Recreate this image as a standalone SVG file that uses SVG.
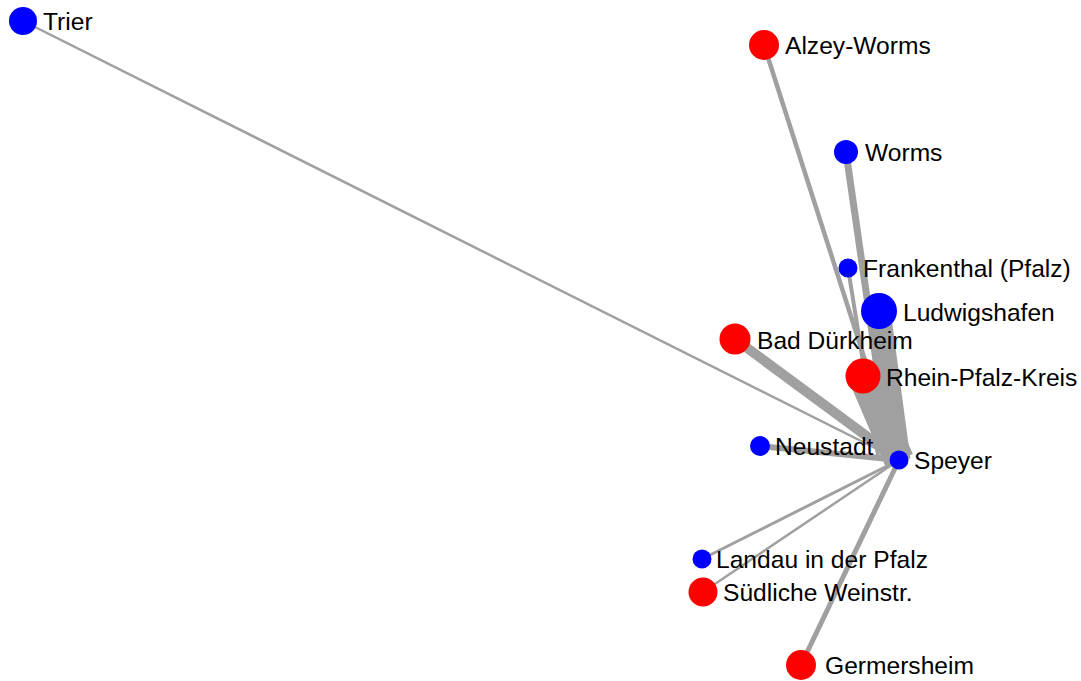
<svg xmlns="http://www.w3.org/2000/svg" width="1081" height="681" viewBox="0 0 1081 681">
  <style>
    .link { stroke: #a0a0a0; stroke-linecap: butt; fill: none; }
    .red { fill: #ff0000; }
    .blue { fill: #0000ff; }
    .label { font-family: "Liberation Sans", Arial, sans-serif; font-size: 24.6px; fill: #000000; }
  </style>
  <rect x="0" y="0" width="1081" height="681" fill="#ffffff"/>

  <!-- connectors: flows into Speyer -->
  <g id="links">
    <line class="link" x1="23" y1="21" x2="899" y2="460" stroke-width="2.5"/>
    <line class="link" x1="764" y1="45" x2="897" y2="460" stroke-width="4.5"/>
    <line class="link" x1="846" y1="152" x2="890" y2="458" stroke-width="7"/>
    <line class="link" x1="848" y1="268" x2="878" y2="455" stroke-width="4"/>
    <line class="link" x1="879" y1="311" x2="899" y2="460" stroke-width="23"/>
    <line class="link" x1="735" y1="339" x2="899" y2="460" stroke-width="10"/>
    <line class="link" x1="863" y1="376" x2="899" y2="460" stroke-width="30"/>
    <line class="link" x1="760" y1="446" x2="899" y2="460" stroke-width="6"/>
    <line class="link" x1="702" y1="559" x2="899" y2="460" stroke-width="3"/>
    <line class="link" x1="703" y1="592" x2="899" y2="460" stroke-width="2.5"/>
    <line class="link" x1="801" y1="665" x2="899" y2="460" stroke-width="5"/>
  </g>

  <g id="node-trier"><circle class="blue" cx="23" cy="21" r="14"/><text class="label" x="43" y="29.5">Trier</text></g>
  <g id="node-alzey-worms"><circle class="red" cx="764" cy="45" r="15"/><text class="label" x="785" y="54">Alzey-Worms</text></g>
  <g id="node-worms"><circle class="blue" cx="846" cy="152" r="12"/><text class="label" x="865" y="161">Worms</text></g>
  <g id="node-frankenthal"><circle class="blue" cx="848" cy="268" r="9.5"/><text class="label" x="863" y="277">Frankenthal (Pfalz)</text></g>
  <g id="node-ludwigshafen"><circle class="blue" cx="879" cy="311" r="18"/><text class="label" x="903" y="321">Ludwigshafen</text></g>
  <g id="node-bad-duerkheim"><circle class="red" cx="735" cy="339" r="15.5"/><text class="label" x="757" y="349">Bad Dürkheim</text></g>
  <g id="node-rhein-pfalz-kreis"><circle class="red" cx="863" cy="376" r="17.5"/><text class="label" x="886" y="386">Rhein-Pfalz-Kreis</text></g>
  <g id="node-neustadt"><circle class="blue" cx="760" cy="446" r="10"/><text class="label" x="775" y="455">Neustadt</text></g>
  <g id="node-speyer"><circle class="blue" cx="899" cy="460" r="9.5"/><text class="label" x="914" y="469">Speyer</text></g>
  <g id="node-landau"><circle class="blue" cx="702" cy="559" r="9.5"/><text class="label" x="716" y="568">Landau in der Pfalz</text></g>
  <g id="node-suedliche-weinstr"><circle class="red" cx="703" cy="592" r="14.5"/><text class="label" x="723" y="601">Südliche Weinstr.</text></g>
  <g id="node-germersheim"><circle class="red" cx="801" cy="665" r="15"/><text class="label" x="825" y="674">Germersheim</text></g>
</svg>
